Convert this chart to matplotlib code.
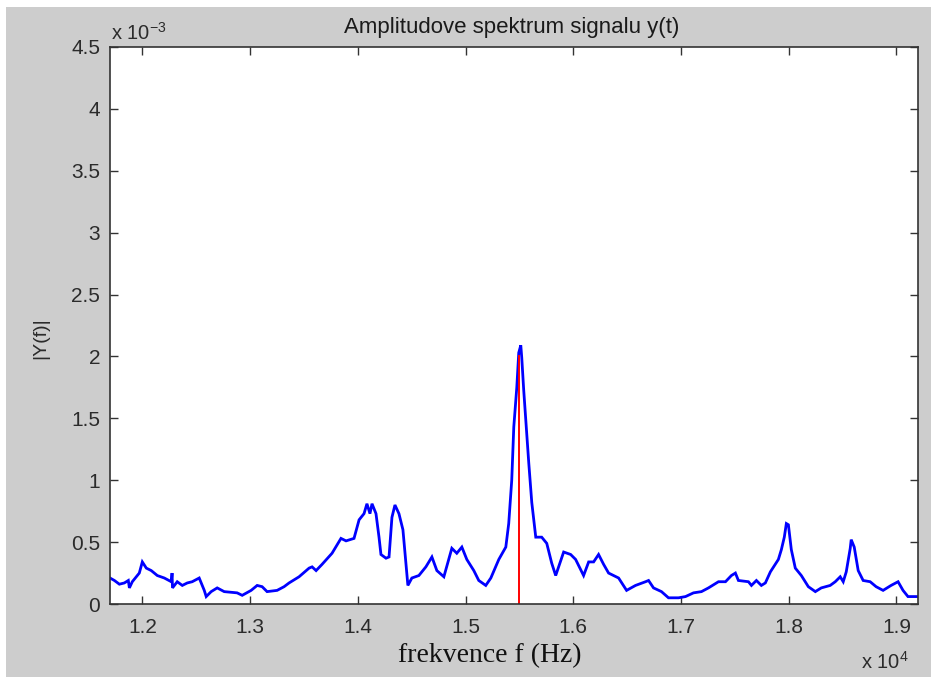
import matplotlib.pyplot as plt
from matplotlib.patches import Rectangle

# spectrum: frequency in Hz, amplitude in units of 1e-3
freq = [11700, 11741, 11787, 11833, 11870, 11880, 11907, 11944, 11972, 12000,
        12037, 12083, 12139, 12204, 12269, 12276, 12280, 12324, 12371, 12417,
        12463, 12528, 12575, 12593, 12639, 12695, 12760, 12880, 12927, 13010,
        13066, 13112, 13158, 13251, 13316, 13362, 13455, 13548, 13576, 13613,
        13668, 13761, 13844, 13891, 13965, 14012, 14058, 14085, 14113, 14132,
        14169, 14197, 14215, 14262, 14290, 14317, 14345, 14382, 14419, 14447,
        14465, 14502, 14567, 14632, 14688, 14734, 14799, 14873, 14919, 14966,
        15012, 15077, 15123, 15188, 15235, 15309, 15374, 15401, 15429, 15448,
        15476, 15494, 15513, 15522, 15540, 15559, 15587, 15615, 15652, 15707,
        15754, 15800, 15837, 15911, 15976, 16022, 16096, 16143, 16189, 16235,
        16282, 16328, 16421, 16495, 16578, 16671, 16699, 16745, 16819, 16884,
        16977, 17042, 17116, 17190, 17255, 17348, 17413, 17468, 17505, 17533,
        17626, 17654, 17700, 17746, 17783, 17830, 17904, 17932, 17959, 17978,
        17997, 18024, 18061, 18117, 18182, 18247, 18302, 18385, 18432, 18478,
        18506, 18534, 18571, 18580, 18608, 18645, 18691, 18756, 18811, 18876,
        18950, 19015, 19061, 19107, 19200]
amp = [0.21, 0.19, 0.16, 0.17, 0.19, 0.13, 0.18, 0.22, 0.25, 0.34,
       0.29, 0.27, 0.23, 0.21, 0.18, 0.25, 0.13, 0.18, 0.15, 0.17,
       0.18, 0.21, 0.11, 0.06, 0.10, 0.13, 0.10, 0.09, 0.07, 0.11,
       0.15, 0.14, 0.10, 0.11, 0.14, 0.17, 0.22, 0.29, 0.30, 0.27,
       0.32, 0.41, 0.53, 0.51, 0.53, 0.68, 0.73, 0.81, 0.73, 0.81,
       0.73, 0.54, 0.40, 0.37, 0.38, 0.70, 0.80, 0.73, 0.60, 0.33,
       0.15, 0.21, 0.23, 0.30, 0.38, 0.27, 0.22, 0.45, 0.41, 0.46,
       0.36, 0.27, 0.19, 0.15, 0.21, 0.36, 0.46, 0.65, 1.00, 1.43,
       1.75, 2.03, 2.09, 1.99, 1.73, 1.49, 1.14, 0.82, 0.54, 0.54,
       0.49, 0.33, 0.23, 0.42, 0.40, 0.36, 0.23, 0.34, 0.34, 0.40,
       0.32, 0.25, 0.21, 0.11, 0.15, 0.18, 0.19, 0.13, 0.10, 0.05,
       0.05, 0.06, 0.09, 0.10, 0.13, 0.18, 0.18, 0.23, 0.25, 0.19,
       0.18, 0.15, 0.19, 0.15, 0.17, 0.26, 0.36, 0.44, 0.54, 0.65,
       0.64, 0.44, 0.29, 0.23, 0.14, 0.10, 0.13, 0.15, 0.18, 0.22,
       0.18, 0.26, 0.45, 0.52, 0.46, 0.27, 0.19, 0.18, 0.14, 0.11,
       0.15, 0.18, 0.11, 0.06, 0.06]

# red marker line
f_mark = 15500
a_mark = 2.0

xticks = [12000, 13000, 14000, 15000, 16000, 17000, 18000, 19000]
xticklabels = ["1.2", "1.3", "1.4", "1.5", "1.6", "1.7", "1.8", "1.9"]
yticks = [0, 0.5, 1, 1.5, 2, 2.5, 3, 3.5, 4, 4.5]
yticklabels = ["0", "0.5", "1", "1.5", "2", "2.5", "3", "3.5", "4", "4.5"]

W, H = 931, 677
bg = "#cdcdcd"
txt = "#2b2b2b"
sans = "Liberation Sans"

fig = plt.figure(figsize=(W / 100, H / 100), dpi=100, facecolor="white")
fig.patches.append(Rectangle((6 / W, 0), 1, 1 - 7 / H, transform=fig.transFigure,
                             facecolor=bg, edgecolor="none", zorder=-10))

ax = fig.add_axes([110 / W, 1 - 604 / H, 808 / W, 557 / H])
ax.plot(freq, amp, color="#0000ff", lw=2.0, solid_joinstyle="miter")
ax.plot([f_mark, f_mark], [0, a_mark], color="#ff0000", lw=1.4)

ax.set_xlim(11700, 19200)
ax.set_ylim(0, 4.5)
ax.set_xticks(xticks)
ax.set_xticklabels(xticklabels)
ax.set_yticks(yticks)
ax.set_yticklabels(yticklabels)
ax.tick_params(direction="in", length=6, width=1, color="#333333",
               top=True, right=True, labelsize=15, labelcolor=txt)
ax.tick_params(axis="x", pad=10)
ax.tick_params(axis="y", pad=7)
for lbl in ax.get_xticklabels() + ax.get_yticklabels():
    lbl.set_family(sans)
for sp in ax.spines.values():
    sp.set_color("#333333")
    sp.set_linewidth(1.2)

# title and labels placed by hand (the reference labels sit off-centre)
fig.text(512 / W, 1 - 27 / H, "Amplitudove spektrum signalu y(t)", fontsize=16,
         family=sans, color="#1a1a1a", ha="center", va="center")
fig.text(41 / W, 1 - 338 / H, "|Y(f)|", fontsize=14, family=sans, color=txt,
         rotation=90, ha="center", va="center")
fig.text(490 / W, 1 - 656 / H, "frekvence f (Hz)", fontsize=20,
         family="Liberation Serif", color="#111111", ha="center", va="center")

fig.text(111 / W, 1 - 33 / H, r"x 10$^{\mathregular{-3}}$", fontsize=14.5,
         family=sans, color=txt, va="center", ha="left")
fig.text(861 / W, 1 - 662 / H, r"x 10$^{\mathregular{4}}$", fontsize=14.5,
         family=sans, color=txt, va="center", ha="left")

fig.savefig("out.png", dpi=100, facecolor=fig.get_facecolor())
